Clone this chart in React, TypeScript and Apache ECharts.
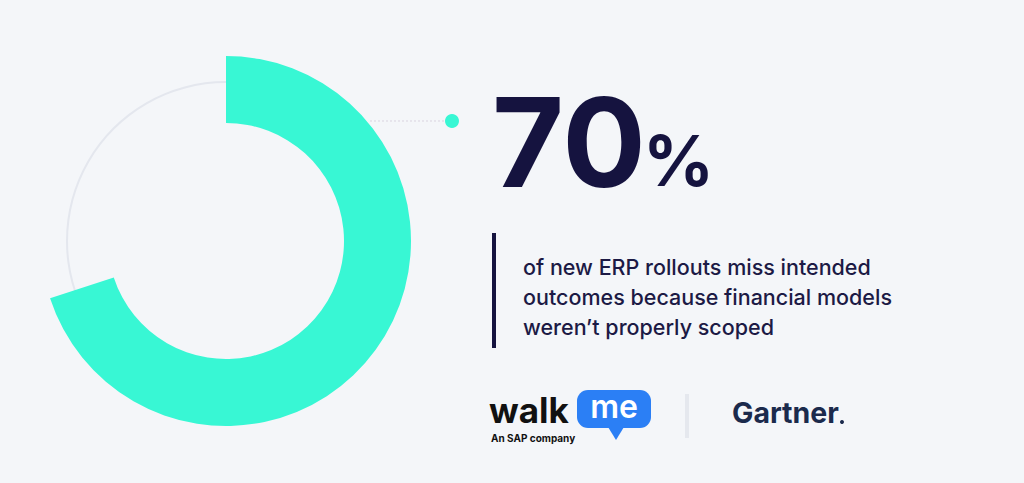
import React, { useEffect, useRef } from "react";
import * as echarts from "echarts";

const statLabels = ["Miss intended outcomes", "Other"];
const statValues = [70, 30];
const descriptionLines = [
  "of new ERP rollouts miss intended",
  "outcomes because financial models",
  "weren\u2019t properly scoped",
];
const brandTexts = ["walk", "me", "An SAP company", "Gartner"];

const TEAL = "#38f7d4";
const NAVY = "#15133f";

export default function App() {
  const ref = useRef<HTMLDivElement>(null);
  useEffect(() => {
    if (!ref.current) return;
    const chart = echarts.init(ref.current, null, { renderer: "svg" });
    const cx = 226;
    const cy = 241;
    chart.setOption({
      animation: false,
      backgroundColor: "#f4f6f9",
      series: [
        {
          type: "pie",
          silent: true,
          center: [cx, cy],
          radius: [158, 160],
          label: { show: false },
          labelLine: { show: false },
          itemStyle: { color: "#e4e7ee" },
          data: [{ name: "track", value: 100 }],
          z: 1,
        },
        {
          type: "pie",
          silent: true,
          center: [cx, cy],
          radius: [118, 185],
          startAngle: 90,
          clockwise: true,
          label: { show: false },
          labelLine: { show: false },
          data: statValues.map((v, i) => ({
            name: statLabels[i],
            value: v,
            itemStyle: { color: i === 0 ? TEAL : "rgba(0,0,0,0)" },
          })),
          z: 2,
        },
      ],
      graphic: [
        {
          type: "line",
          shape: { x1: 370, y1: 121, x2: 450, y2: 121 },
          style: { stroke: "#d9d3df", lineWidth: 1, lineDash: [2, 2] },
        },
        { type: "circle", shape: { cx: 452, cy: 121, r: 7 }, style: { fill: TEAL } },
        {
          type: "text",
          x: 492,
          y: 142,
          style: {
            text: String(statValues[0]),
            fill: NAVY,
            font: "700 124px Inter",
            verticalAlign: "middle",
            align: "left",
          },
        },
        {
          type: "text",
          x: 643,
          y: 160,
          style: {
            text: "%",
            fill: NAVY,
            font: "700 70px Inter",
            verticalAlign: "middle",
            align: "left",
          },
        },
        { type: "rect", shape: { x: 492, y: 233, width: 4, height: 115 }, style: { fill: NAVY } },
        ...descriptionLines.map((t, i) => ({
          type: "text",
          x: 523,
          y: 267 + i * 30,
          style: {
            text: t,
            fill: "#1c1a45",
            font: "500 21.5px Inter",
            verticalAlign: "middle",
            align: "left",
          },
        })),
        {
          type: "text",
          x: 489,
          y: 410,
          style: {
            text: brandTexts[0],
            fill: "#111111",
            font: "700 35px Inter",
            verticalAlign: "middle",
            align: "left",
          },
        },
        {
          type: "rect",
          shape: { x: 577, y: 390, width: 74, height: 38, r: 11 },
          style: { fill: "#2b7ff5" },
        },
        {
          type: "polygon",
          shape: { points: [[608, 427], [624, 427], [616, 440]] },
          style: { fill: "#2b7ff5" },
        },
        {
          type: "text",
          x: 614,
          y: 406,
          style: {
            text: brandTexts[1],
            fill: "#ffffff",
            font: "600 32px Inter",
            verticalAlign: "middle",
            align: "center",
          },
        },
        {
          type: "text",
          x: 491,
          y: 438,
          style: {
            text: brandTexts[2],
            fill: "#111111",
            font: "700 10px Inter",
            verticalAlign: "middle",
            align: "left",
          },
        },
        { type: "rect", shape: { x: 685, y: 394, width: 4, height: 44 }, style: { fill: "#e5e8ee" } },
        {
          type: "text",
          x: 732,
          y: 412,
          style: {
            text: brandTexts[3],
            fill: "#1b2a4c",
            font: "700 28.5px Inter",
            verticalAlign: "middle",
            align: "left",
          },
        },
        { type: "circle", shape: { cx: 842, cy: 422, r: 2 }, style: { fill: "#1b2a4c" } },
      ],
    });
    return () => chart.dispose();
  }, []);
  return (
    <div
      ref={ref}
      style={{ position: "fixed", left: 0, top: 0, width: 1024, height: 483 }}
    />
  );
}
